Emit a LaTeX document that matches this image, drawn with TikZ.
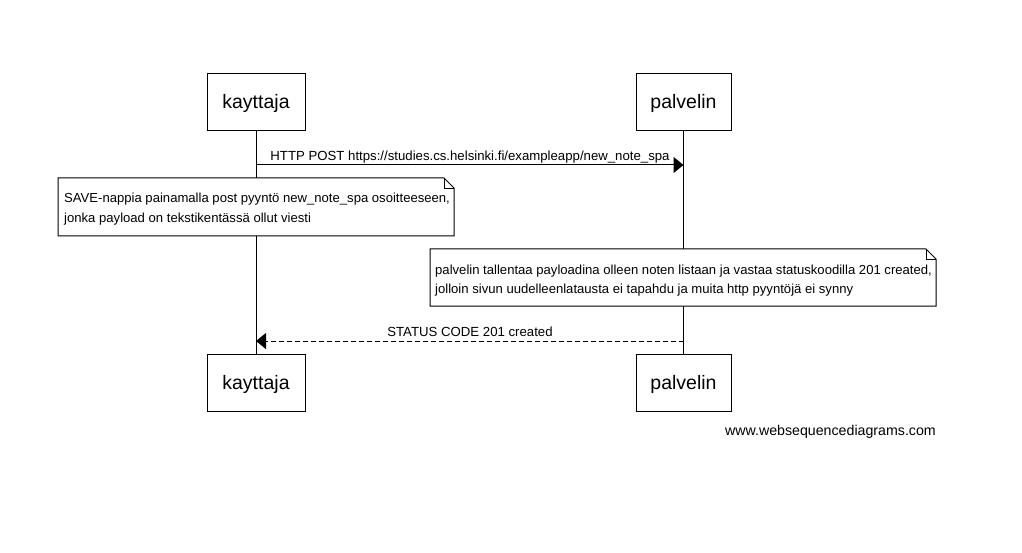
\documentclass[tikz,border=0pt]{standalone}
\usepackage{fontspec}
\setmainfont{Liberation Sans}
\usetikzlibrary{arrows.meta}
\begin{document}
\begin{tikzpicture}[x=1pt,y=-1pt,
  actor/.style={draw,line width=1pt,minimum width=98pt,minimum height=57pt,inner sep=0pt,font=\fontsize{19.5}{22}\selectfont,text height=14pt,text depth=1pt},
  lbl/.style={font=\fontsize{13.2}{15}\selectfont,inner sep=0pt},
  lifeline/.style={line width=1pt},
  msg/.style={line width=1pt,-{Triangle[length=10pt,width=16pt]}},
  notebox/.style={line width=1pt,fill=white},
  notetext/.style={font=\fontsize{13.1}{20}\selectfont,align=left,inner sep=0pt,anchor=base west}]
\useasboundingbox (0,0) rectangle (1022,553);
% participants
\node[actor] (k1) at (256,102.5) {kayttaja};
\node[actor,minimum width=95pt] (p1) at (683.5,102.5) {palvelin};
\node[actor] (k2) at (256,382.5) {kayttaja};
\node[actor,minimum width=95pt] (p2) at (683.5,382.5) {palvelin};
% lifelines
\draw[lifeline] (k1.south) -- (k2.north);
\draw[lifeline] (p1.south) -- (p2.north);
% message 1
\coordinate (m1a) at (k1.south |- 0,165);
\coordinate (m1b) at (p1.south |- 0,165);
\draw[msg] (m1a) -- (m1b);
\node[lbl,anchor=base] (l1) at (470,161) {HTTP POST https://studies.cs.helsinki.fi/exampleapp/new\_note\_spa};
% note 1
\draw[notebox] (58,178) -- (444,178) -- (454,188) -- (454,236) -- (58,236) -- cycle;
\draw[line width=0.8pt] (444,178) -- (444,188) -- (454,188);
\node[notetext] (n1) at (64,223) {SAVE-nappia painamalla post pyyntö new\_note\_spa osoitteeseen,\\jonka payload on tekstikentässä ollut viesti};
% note 2
\draw[notebox] (430,249) -- (926,249) -- (936,259) -- (936,306) -- (430,306) -- cycle;
\draw[line width=0.8pt] (926,249) -- (926,259) -- (936,259);
\node[notetext] (n2) at (435,294) {palvelin tallentaa payloadina olleen noten listaan ja vastaa statuskoodilla 201 created,\\jolloin sivun uudelleenlatausta ei tapahdu ja muita http pyyntöjä ei synny};
% message 2
\coordinate (m2a) at (p1.south |- 0,341);
\coordinate (m2b) at (k1.south |- 0,341);
\draw[msg,dash pattern=on 5pt off 3pt] (m2a) -- (m2b);
\node[lbl,anchor=base] (l2) at (470,336) {STATUS CODE 201 created};
% watermark
\node[lbl,anchor=base east,font=\fontsize{14.2}{16}\selectfont] (wm) at (936,435) {www.websequencediagrams.com};
\end{tikzpicture}
\end{document}
